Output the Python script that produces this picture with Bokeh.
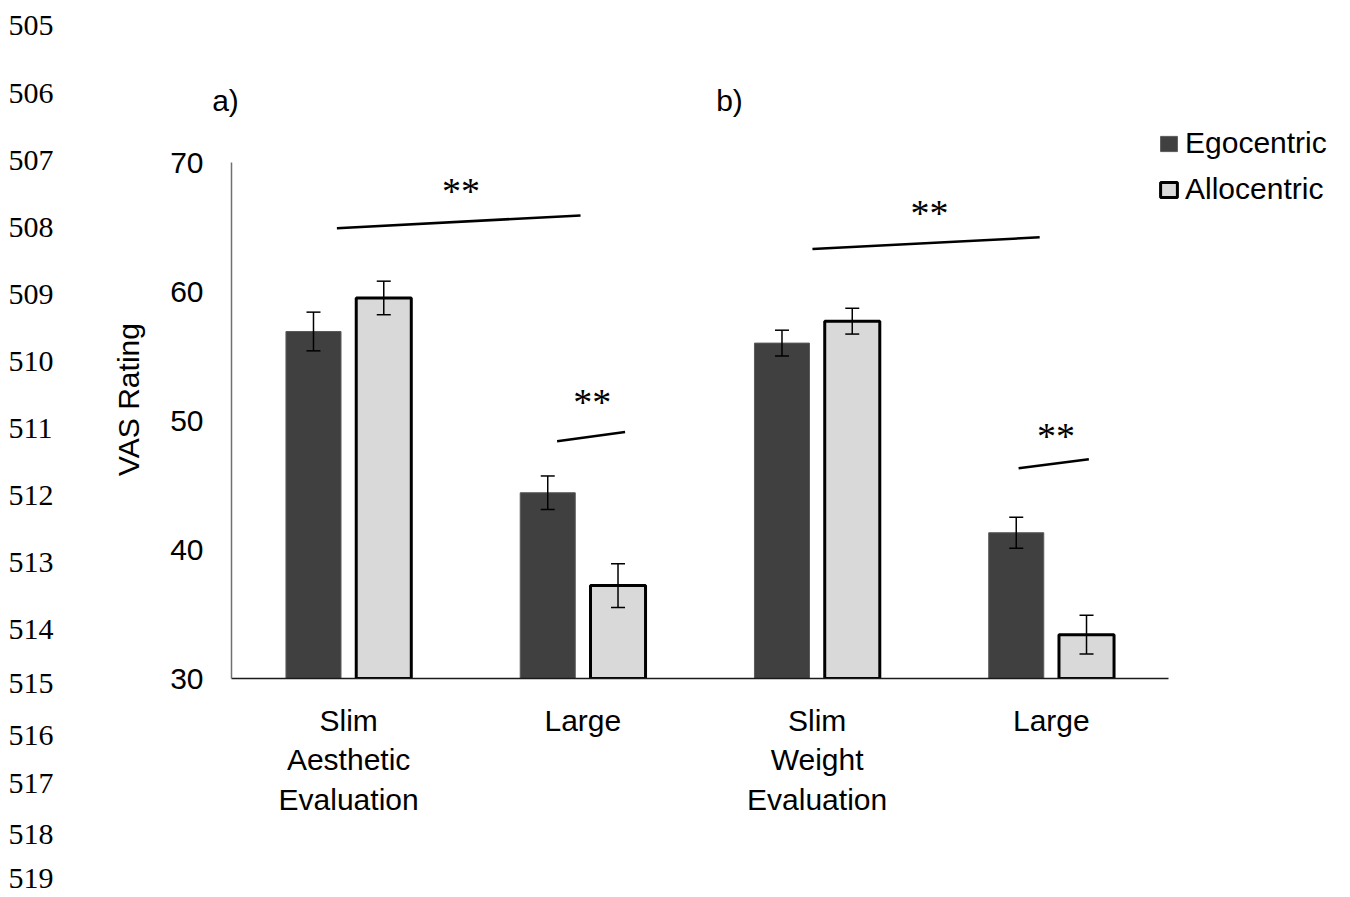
from bokeh.plotting import figure
from bokeh.layouts import column, row
from bokeh.models import (ColumnDataSource, Range1d, FixedTicker, Whisker, TeeHead,
                          Legend, LegendItem)
from bokeh.core.properties import value
from bokeh.embed import file_html
from bokeh.resources import INLINE

# ---------------- data ----------------
categories = ["Slim\nAesthetic\nEvaluation", "Large", "Slim\nWeight\nEvaluation", "Large"]
egocentric = [56.9, 44.4, 56.0, 41.3]
egocentric_err = [1.5, 1.3, 1.0, 1.2]
allocentric = [59.5, 37.2, 57.7, 33.4]
allocentric_err = [1.3, 1.7, 1.0, 1.5]
y_ticks = [30, 40, 50, 60, 70]

# significance annotations (data coordinates)
sig_x0 = [0.45, 1.39, 2.48, 3.36]
sig_x1 = [1.49, 1.68, 3.45, 3.66]
sig_y0 = [64.9, 48.4, 63.3, 46.3]
sig_y1 = [65.9, 49.1, 64.2, 47.0]
sig_text = ["**", "**", "**", "**"]
sig_tx = [0.98, 1.54, 2.98, 3.52]
sig_ty = [67.8, 51.4, 66.1, 48.8]

panel_labels = ["a)", "b)"]
line_numbers = [str(n) for n in range(505, 520)]

# ---------------- page layout (pixels) ----------------
PAGE_W, PAGE_H = 1342, 896
TOP_H = 120            # strip above the main plot frame
LEFT_W = 60            # strip with the line numbers
FRAME_L, FRAME_B, FRAME_T = 231, 678, 120
PX_PER_X = 937 / 4
PX_PER_Y = 516 / 40

line_number_py = [25, 93, 160, 227, 294, 361, 428, 495, 562, 629, 683, 735, 783, 834, 878]
line_number_px = 8
panel_label_px = [225, 729]
panel_label_py = 100

FONT = "Liberation Sans"
SERIF = "Liberation Serif"

# ---------------- top strip ----------------
top = figure(width=PAGE_W, height=TOP_H, x_range=Range1d(0, PAGE_W), y_range=Range1d(TOP_H, 0),
             min_border=0, x_axis_location=None, y_axis_location=None,
             toolbar_location=None, output_backend="svg")
top.outline_line_color = None
top.grid.visible = False
top_nums = [(t, py) for t, py in zip(line_numbers, line_number_py) if py < TOP_H]
top.text(x=[line_number_px] * len(top_nums), y=[py for _, py in top_nums],
         text=[t for t, _ in top_nums], text_font=value(SERIF), text_font_size="30px",
         text_align="left", text_baseline="middle", text_color="black")
top.text(x=panel_label_px, y=[panel_label_py] * len(panel_labels), text=panel_labels,
         text_font=value(FONT), text_font_size="30px",
         text_align="center", text_baseline="middle", text_color="black")

# ---------------- left strip ----------------
left = figure(width=LEFT_W, height=PAGE_H - TOP_H, x_range=Range1d(0, LEFT_W),
              y_range=Range1d(PAGE_H, TOP_H),
              min_border=0, x_axis_location=None, y_axis_location=None,
              toolbar_location=None, output_backend="svg")
left.outline_line_color = None
left.grid.visible = False
left_nums = [(t, py) for t, py in zip(line_numbers, line_number_py) if py >= TOP_H]
left.text(x=[line_number_px] * len(left_nums), y=[py for _, py in left_nums],
          text=[t for t, _ in left_nums], text_font=value(SERIF), text_font_size="30px",
          text_align="left", text_baseline="middle", text_color="black")

# ---------------- main plot ----------------
n = len(categories)
centers = [i + 0.5 for i in range(n)]
off = 0.15
bw = 0.235

x_end = n + (PAGE_W - (FRAME_L + 937)) / PX_PER_X
y_end = y_ticks[-1] + (162 - FRAME_T) / PX_PER_Y

p = figure(frame_width=PAGE_W - FRAME_L, frame_height=FRAME_B - FRAME_T,
           min_border_left=FRAME_L - LEFT_W, min_border_right=0,
           min_border_top=0, min_border_bottom=PAGE_H - FRAME_B,
           x_range=Range1d(0, x_end), y_range=Range1d(y_ticks[0], y_end),
           output_backend="svg", toolbar_location=None)
p.outline_line_color = None
p.xgrid.visible = False
p.ygrid.visible = False

ego_src = ColumnDataSource(dict(
    x=[c - off for c in centers], top=egocentric,
    upper=[v + e for v, e in zip(egocentric, egocentric_err)],
    lower=[v - e for v, e in zip(egocentric, egocentric_err)]))
allo_src = ColumnDataSource(dict(
    x=[c + off for c in centers], top=allocentric,
    upper=[v + e for v, e in zip(allocentric, allocentric_err)],
    lower=[v - e for v, e in zip(allocentric, allocentric_err)]))

r_ego = p.vbar(x="x", top="top", bottom=y_ticks[0], width=bw, source=ego_src,
               fill_color="#404040", line_color="#5a5a5a", line_width=1)
r_allo = p.vbar(x="x", top="top", bottom=y_ticks[0], width=bw, source=allo_src,
                fill_color="#d9d9d9", line_color="black", line_width=3)

for src in (ego_src, allo_src):
    w = Whisker(source=src, base="x", upper="upper", lower="lower", level="annotation",
                line_color="black", line_width=1.5,
                upper_head=TeeHead(size=14, line_color="black", line_width=1.5),
                lower_head=TeeHead(size=14, line_color="black", line_width=1.5))
    p.add_layout(w)

# significance lines and stars
p.segment(x0=sig_x0, y0=sig_y0, x1=sig_x1, y1=sig_y1, line_color="black", line_width=2.5)
p.text(x=sig_tx, y=sig_ty, text=sig_text, text_font=value(SERIF), text_font_size="38px",
       text_align="center", text_baseline="middle", text_color="black")

# axes
p.yaxis.ticker = FixedTicker(ticks=y_ticks)
p.yaxis.bounds = (y_ticks[0], y_ticks[-1])
p.yaxis.major_tick_in = 0
p.yaxis.major_tick_out = 0
p.yaxis.minor_tick_line_color = None
p.yaxis.major_label_standoff = 28
p.yaxis.major_label_text_font = FONT
p.yaxis.major_label_text_font_size = "30px"
p.yaxis.major_label_text_color = "black"
p.yaxis.axis_line_color = "#707070"
p.yaxis.axis_line_width = 1.5
p.yaxis.axis_label = "VAS Rating"
p.yaxis.axis_label_text_font = FONT
p.yaxis.axis_label_text_font_size = "30px"
p.yaxis.axis_label_text_font_style = "normal"
p.yaxis.axis_label_text_color = "black"
p.yaxis.axis_label_standoff = 22

p.xaxis.ticker = FixedTicker(ticks=centers)
p.xaxis.bounds = (0, n)
p.xaxis.major_label_overrides = {c: lab for c, lab in zip(centers, categories)}
p.xaxis.major_tick_in = 0
p.xaxis.major_tick_out = 0
p.xaxis.minor_tick_line_color = None
p.xaxis.major_label_standoff = 25
p.xaxis.major_label_text_font = FONT
p.xaxis.major_label_text_font_size = "30px"
p.xaxis.major_label_text_color = "black"
p.xaxis.axis_line_color = "#1a1a1a"
p.xaxis.axis_line_width = 1.5

legend = Legend(items=[LegendItem(label="Egocentric", renderers=[r_ego]),
                       LegendItem(label="Allocentric", renderers=[r_allo])],
                location=(1158 - FRAME_L, FRAME_B - 206), orientation="vertical",
                glyph_width=21, glyph_height=19, label_standoff=6,
                label_text_font=FONT, label_text_font_size="30px", label_text_color="black",
                spacing=12, padding=0, margin=0,
                border_line_color=None, background_fill_alpha=0)
p.add_layout(legend)

# the line-number strip is wrapped in its own column so that the row does not
# align its frame with the main plot's frame
layout = column(top, row(column(left, spacing=0), p, spacing=0), spacing=0)
open("out.html", "w").write(file_html(layout, INLINE))
